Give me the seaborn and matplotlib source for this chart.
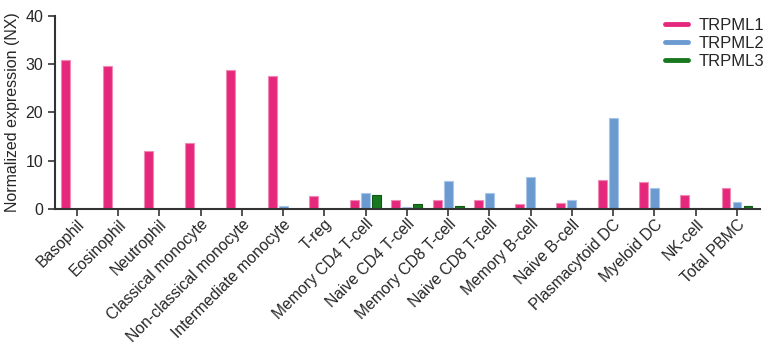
import pandas as pd
import numpy as np
import seaborn as sns
import matplotlib.pyplot as plt
from matplotlib.lines import Line2D

cells = ["Basophil", "Eosinophil", "Neutrophil", "Classical monocyte",
         "Non-classical monocyte", "Intermediate monocyte", "T-reg",
         "Memory CD4 T-cell", "Naive CD4 T-cell", "Memory CD8 T-cell",
         "Naive CD8 T-cell", "Memory B-cell", "Naive B-cell",
         "Plasmacytoid DC", "Myeloid DC", "NK-cell", "Total PBMC"]

trpml1 = [30.8, 29.6, 12.1, 13.6, 28.8, 27.5, 2.6, 1.9, 1.9, 1.9, 1.9, 1.0, 1.2, 6.1, 5.5, 2.8, 4.3]
trpml2 = [0.0, 0.0, 0.0, 0.0, 0.0, 0.7, 0.0, 3.3, 0.5, 5.9, 3.4, 6.6, 1.9, 18.9, 4.4, 0.3, 1.4]
trpml3 = [0.0, 0.0, 0.0, 0.0, 0.0, 0.0, 0.0, 2.8, 1.0, 0.7, 0.0, 0.0, 0.0, 0.0, 0.0, 0.0, 0.6]

genes = ["TRPML1", "TRPML2", "TRPML3"]
colors = ["#E6287C", "#6A9AD0", "#17781F"]
edges = ["#F08AB5", "#A9C6E8", "#0E5A14"]

df = pd.DataFrame({
    "cell": cells * 3,
    "gene": [g for g in genes for _ in cells],
    "NX": trpml1 + trpml2 + trpml3,
})

sns.set_style("ticks")
plt.rcParams["font.family"] = ["Liberation Sans", "DejaVu Sans"]

fig = plt.figure(figsize=(7.68, 3.47), dpi=100)
ax = fig.add_axes([0.0716, 0.3977, 0.918, 0.5562])

sns.barplot(data=df, x="cell", y="NX", hue="gene", hue_order=genes,
            palette=colors, saturation=1, width=0.8, gap=0.2, ax=ax,
            legend=False, linewidth=0.8, errorbar=None)

# lighter outline like the original
for cont, ec in zip(ax.containers, edges):
    for bar in cont:
        bar.set_edgecolor(ec)

n = len(cells)
ax.set_xlim(-0.53, n - 1 + 0.56)
ax.set_ylim(0, 40)
ax.set_yticks([0, 10, 20, 30, 40])
ax.set_xlabel("")
ax.set_ylabel("Normalized expression (NX)", fontsize=11.5, labelpad=4)
ax.tick_params(axis="y", labelsize=11.5, length=5, width=1.2, color="#333333")
ax.tick_params(axis="x", labelsize=11.3, length=5, width=1.2, color="#333333", pad=0.5)
plt.setp(ax.get_xticklabels(), rotation=45, ha="right", rotation_mode="anchor")

sns.despine(ax=ax)
for s in ["left", "bottom"]:
    ax.spines[s].set_linewidth(1.5)
    ax.spines[s].set_color("#333333")

handles = [Line2D([0], [0], color=c, lw=3.5) for c in colors]
fig.legend(handles, genes, loc="upper right", bbox_to_anchor=(1.008, 0.978),
           frameon=False, fontsize=12, handlelength=1.4, handletextpad=0.6,
           labelspacing=0.2, borderaxespad=0.2)

fig.savefig("out.png", dpi=100)
